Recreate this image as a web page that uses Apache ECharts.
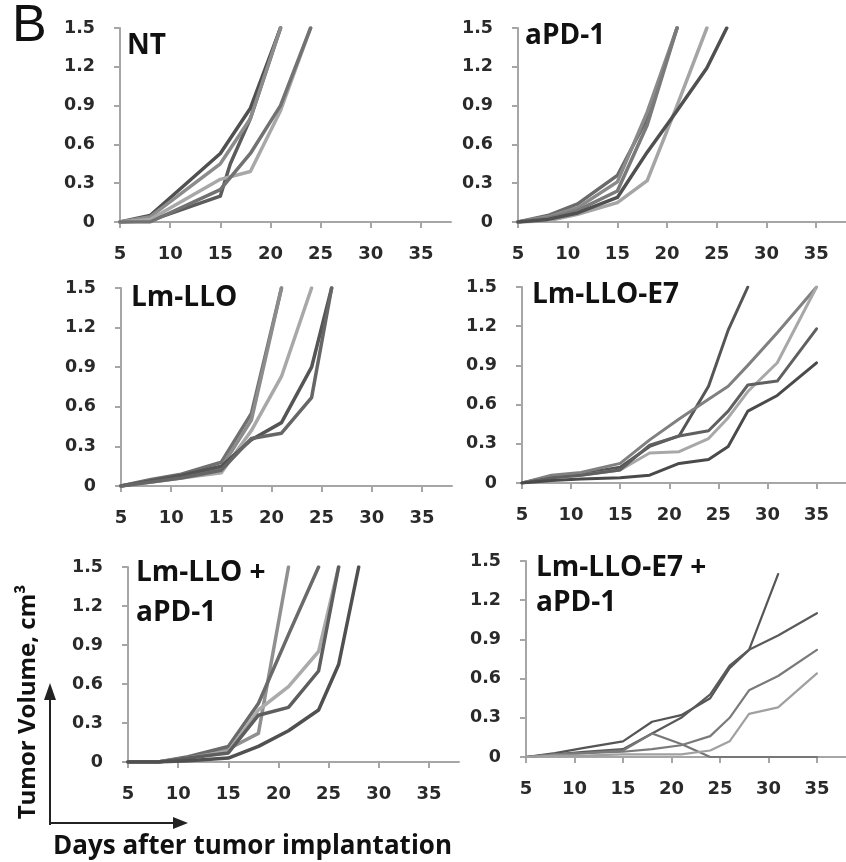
<!DOCTYPE html>
<html>
<head>
<meta charset="utf-8">
<script src="https://cdn.jsdelivr.net/npm/echarts@6/dist/echarts.min.js"></script>
<style>
html,body{margin:0;padding:0;background:#fff;}
#chart{width:846px;height:862px;}
</style>
</head>
<body>
<div id="chart"></div>
<script>
// ---------- data ----------
const xTicks = [5, 10, 15, 20, 25, 30, 35];
const yTicks = [0, 0.3, 0.6, 0.9, 1.2, 1.5];

// NT
const ntDays = [5, 8, 15, 16, 18, 21, 24];
const nt1 = [0, 0.05, 0.53, null, 0.88, 1.5, null];
const nt2 = [0, 0.01, 0.20, 0.45, 0.80, 1.5, null];
const nt3 = [0, 0.04, 0.45, null, 0.80, 1.5, null];
const nt4 = [0, 0.02, 0.33, null, 0.39, 0.86, 1.5];
const nt5 = [0, 0.00, 0.25, null, 0.53, 0.90, 1.5];

// aPD-1
const pdDays = [5, 8, 11, 15, 18, 21, 24, 26];
const pd1 = [0, 0.05, 0.14, 0.36, 0.80, 1.5, null, null];
const pd2 = [0, 0.04, 0.11, 0.31, 0.85, 1.5, null, null];
const pd3 = [0, 0.03, 0.09, 0.24, 0.75, 1.5, null, null];
const pd4 = [0, 0.01, 0.06, 0.15, 0.32, 0.90, 1.5, null];
const pd5 = [0, 0.02, 0.07, 0.19, 0.54, 0.86, 1.19, 1.5];

// Lm-LLO
const llDays = [5, 8, 11, 15, 18, 21, 24, 26];
const ll1 = [0, 0.05, 0.09, 0.18, 0.55, 1.5, null, null];
const ll2 = [0, 0.04, 0.07, 0.14, 0.50, 1.5, null, null];
const ll3 = [0, 0.03, 0.06, 0.10, 0.42, 0.83, 1.5, null];
const ll4 = [0, 0.04, 0.08, 0.15, 0.35, 0.48, 0.90, 1.5];
const ll5 = [0, 0.03, 0.06, 0.12, 0.36, 0.40, 0.67, 1.5];

// Lm-LLO-E7
const e7Days = [5, 8, 11, 15, 18, 21, 24, 26, 28, 31, 35];
const e71 = [0, 0.05, 0.07, 0.12, 0.28, 0.36, 0.74, 1.17, 1.5, null, null];
const e72 = [0, 0.06, 0.08, 0.15, 0.33, 0.49, 0.64, 0.74, 0.90, 1.15, 1.5];
const e73 = [0, 0.04, 0.06, 0.10, 0.23, 0.24, 0.34, 0.50, 0.70, 0.92, 1.5];
const e74 = [0, 0.04, 0.06, 0.10, 0.29, 0.36, 0.40, 0.55, 0.75, 0.78, 1.18];
const e75 = [0, 0.02, 0.03, 0.04, 0.06, 0.15, 0.18, 0.28, 0.55, 0.67, 0.92];

// Lm-LLO + aPD-1
const lpDays = [5, 8, 11, 15, 18, 21, 24, 26, 28];
const lp1 = [0, 0, 0.03, 0.10, 0.22, 1.5, null, null, null];
const lp2 = [0, 0, 0.04, 0.12, 0.45, 0.98, 1.5, null, null];
const lp3 = [0, 0, 0.03, 0.08, 0.40, 0.58, 0.85, 1.5, null];
const lp4 = [0, 0, 0.03, 0.07, 0.36, 0.42, 0.70, 1.5, null];
const lp5 = [0, 0, 0.01, 0.03, 0.12, 0.24, 0.40, 0.75, 1.5];

// Lm-LLO-E7 + aPD-1
const epDays = [5, 8, 11, 15, 18, 21, 24, 26, 28, 31, 35];
const ep1 = [0, 0.03, 0.07, 0.12, 0.27, 0.32, 0.45, 0.68, 0.82, 1.40, null];
const ep2 = [0, 0.02, 0.04, 0.06, 0.18, 0.30, 0.48, 0.70, 0.82, 0.93, 1.10];
const ep3 = [0, 0.02, 0.03, 0.05, 0.18, 0.10, 0, 0, 0, 0, 0];
const ep4 = [0, 0.02, 0.03, 0.04, 0.06, 0.09, 0.16, 0.30, 0.51, 0.62, 0.82];
const ep5 = [0, 0.01, 0.01, 0.02, 0.02, 0.02, 0.05, 0.12, 0.33, 0.38, 0.64];

const panelTitles = [['NT'], ['aPD-1'], ['Lm-LLO'], ['Lm-LLO-E7'], ['Lm-LLO +', 'aPD-1'], ['Lm-LLO-E7 +', 'aPD-1']];
const panelDays = [ntDays, pdDays, llDays, e7Days, lpDays, epDays];
const panelSeries = [
  [nt1, nt2, nt3, nt4, nt5],
  [pd1, pd2, pd3, pd4, pd5],
  [ll1, ll2, ll3, ll4, ll5],
  [e71, e72, e73, e74, e75],
  [lp1, lp2, lp3, lp4, lp5],
  [ep1, ep2, ep3, ep4, ep5]
];

// ---------- styling / layout ----------
const panelColors = [
  ['#505050', '#5c5c5c', '#8c8c8c', '#a8a8a8', '#727272'],
  ['#6a6a6a', '#8a8a8a', '#7a7a7a', '#a5a5a5', '#505050'],
  ['#707070', '#8c8c8c', '#a8a8a8', '#555555', '#666666'],
  ['#555555', '#808080', '#a8a8a8', '#606060', '#4a4a4a'],
  ['#909090', '#6a6a6a', '#ababab', '#5e5e5e', '#505050'],
  ['#555555', '#5a5a5a', '#777777', '#7a7a7a', '#a0a0a0']
];
const panelWidths = [3.5, 3.5, 3.5, 3, 3.5, 2.2];
const grids = [
  {left: 120, top: 28, width: 331, height: 194},
  {left: 518, top: 28, width: 331, height: 194},
  {left: 121, top: 288, width: 331, height: 198},
  {left: 522, top: 287, width: 331, height: 196},
  {left: 128, top: 567, width: 331, height: 195},
  {left: 526, top: 561, width: 331, height: 196}
];
const titlePos = [
  [[127, 32]], [[525, 22]], [[131, 284]], [[532, 281]],
  [[136, 559], [136, 599]], [[536, 554], [536, 589]]
];

const axisColor = '#a6a6a6';
const labelFont = {fontFamily: 'DejaVu Sans', fontWeight: 'bold', color: '#2a2a2a'};

const xAxes = [], yAxes = [], series = [], graphics = [];
grids.forEach((g, i) => {
  xAxes.push({
    gridIndex: i, type: 'value', min: 5, max: 38,
    axisLine: {show: true, lineStyle: {color: axisColor, width: 2}},
    axisTick: {show: true, length: 6, customValues: xTicks, lineStyle: {color: axisColor, width: 2}},
    axisLabel: Object.assign({fontSize: 18, margin: 23, customValues: xTicks}, labelFont),
    splitLine: {show: false}
  });
  yAxes.push({
    gridIndex: i, type: 'value', min: 0, max: 1.5, interval: 0.3,
    axisLine: {show: true, lineStyle: {color: axisColor, width: 2}},
    axisTick: {show: true, length: 6, lineStyle: {color: axisColor, width: 2}},
    axisLabel: Object.assign({fontSize: 17.5, margin: 25}, labelFont),
    splitLine: {show: false}
  });
  panelSeries[i].forEach((vals, k) => {
    series.push({
      type: 'line', xAxisIndex: i, yAxisIndex: i,
      data: panelDays[i].map((d, j) => [d, vals[j]]),
      connectNulls: true, showSymbol: false, symbol: 'none', silent: true,
      lineStyle: {color: panelColors[i][k], width: panelWidths[i], cap: 'round', join: 'round'},
      z: 2
    });
  });
  panelTitles[i].forEach((t, k) => {
    graphics.push({
      type: 'text', left: titlePos[i][k][0], top: titlePos[i][k][1],
      style: {text: t, font: 'bold 28px "Open Sans"', fill: '#111'}
    });
  });
});

graphics.push({type: 'text', left: 12, top: 1, style: {text: 'B', font: '52px "Liberation Sans"', fill: '#111'}});
graphics.push({type: 'text', left: 53, top: 834, style: {text: 'Days after tumor implantation', font: 'bold 26px "Open Sans"', fill: '#111'}});
graphics.push({type: 'text', x: 28, y: 702, rotation: Math.PI / 2,
  style: {text: 'Tumor Volume, cm\u00b3', x: 0, y: 0, font: 'bold 24px "Open Sans"', fill: '#111',
    align: 'center', verticalAlign: 'middle', textAlign: 'center', textVerticalAlign: 'middle'}});
graphics.push({type: 'polyline', shape: {points: [[50, 825], [50, 698]]}, style: {stroke: '#222', lineWidth: 2, fill: null}});
graphics.push({type: 'polygon', shape: {points: [[44, 700], [56, 700], [50, 683]]}, style: {fill: '#222'}});
graphics.push({type: 'polyline', shape: {points: [[49, 823], [175, 823]]}, style: {stroke: '#222', lineWidth: 2, fill: null}});
graphics.push({type: 'polygon', shape: {points: [[173, 817], [173, 829], [188, 823]]}, style: {fill: '#222'}});

const chart = echarts.init(document.getElementById('chart'), null, {renderer: 'canvas'});
chart.setOption({
  animation: false,
  backgroundColor: '#fff',
  grid: grids,
  xAxis: xAxes,
  yAxis: yAxes,
  series: series,
  graphic: graphics
});
</script>
</body>
</html>
